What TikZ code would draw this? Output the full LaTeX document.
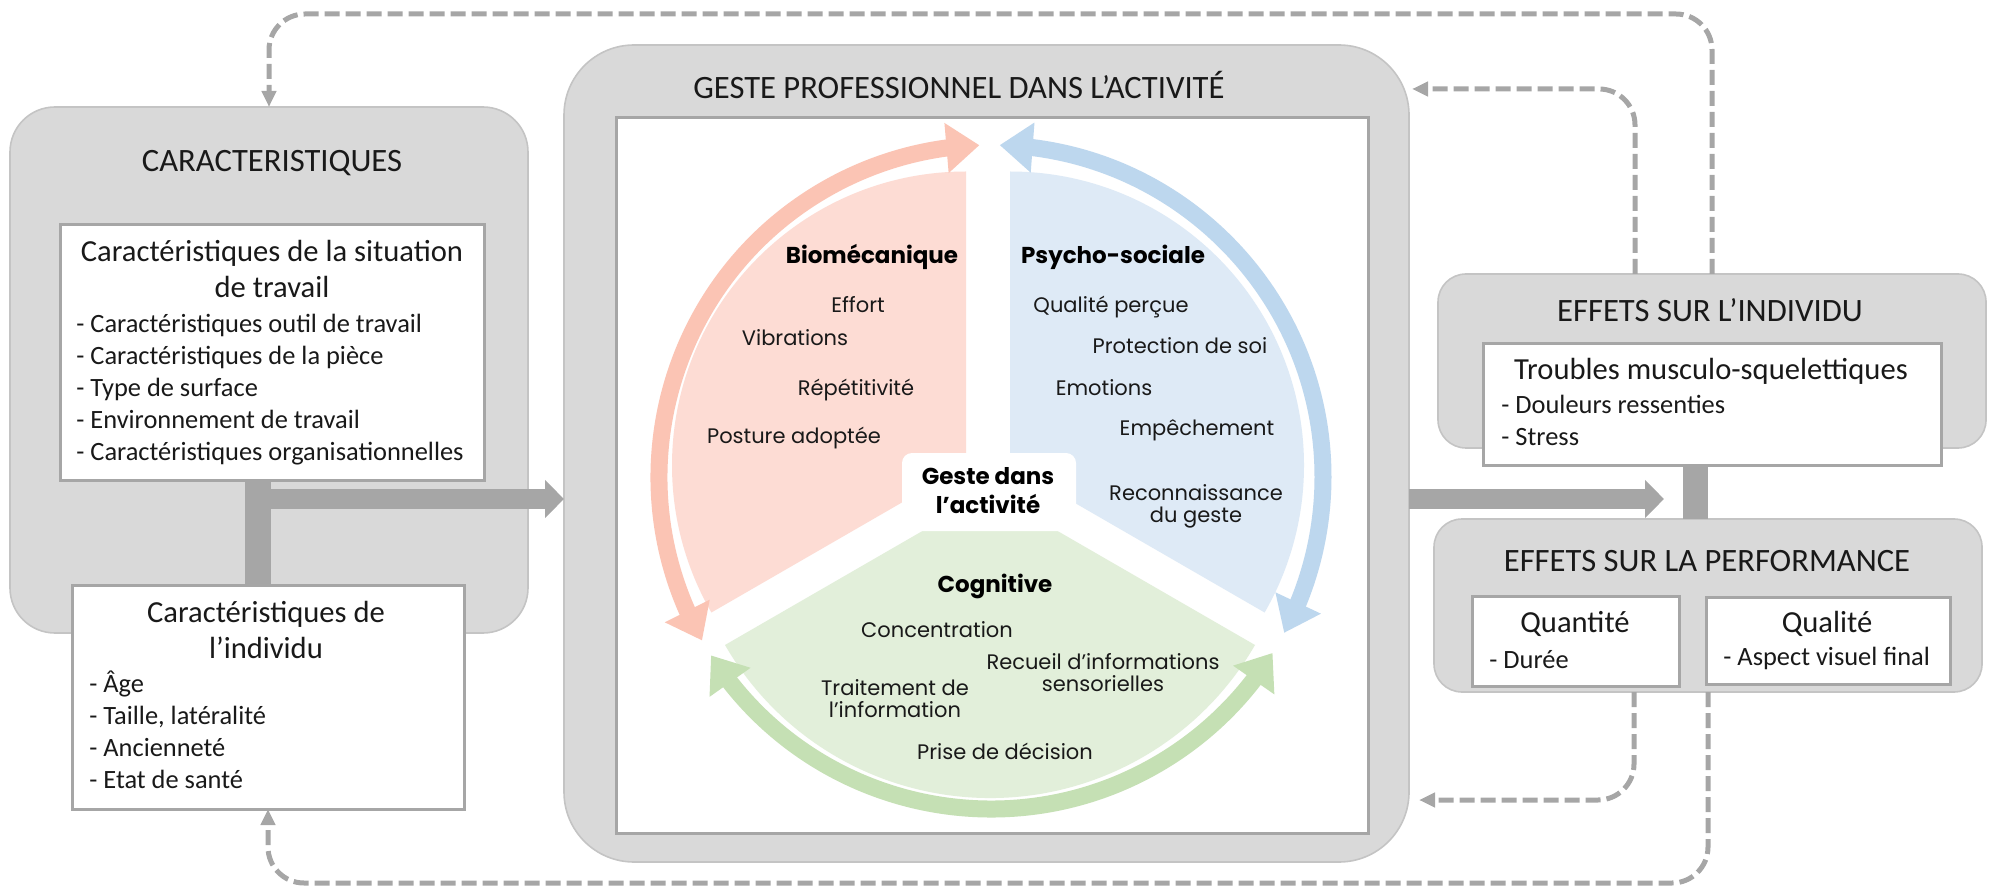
\documentclass[tikz,border=0pt]{standalone}
\usepackage{fontspec}
\setmainfont{Carlito}
\newfontfamily\piefont{Poppins}
\usetikzlibrary{arrows.meta,bending,calc}

\definecolor{boxgray}{HTML}{D9D9D9}
\definecolor{linegray}{HTML}{A6A6A6}
\definecolor{rimgray}{HTML}{C4C4C4}
\definecolor{bioarrow}{HTML}{FBC4B4}
\definecolor{biofill}{HTML}{FDDCD4}
\definecolor{psyarrow}{HTML}{BDD7EE}
\definecolor{psyfill}{HTML}{DEEAF6}
\definecolor{cogarrow}{HTML}{C5E0B4}
\definecolor{cogfill}{HTML}{E2EFDA}

\tikzset{
  graybox/.style={fill=boxgray, draw=rimgray, line width=0.8pt, anchor=north west, outer sep=0pt},
  whitebox/.style={fill=white, draw=linegray, line width=1.5pt, anchor=north west, outer sep=0pt},
  boxtitle/.style={anchor=base, inner sep=0pt, text=black!90, font=\fontsize{16.3}{19}\selectfont},
  boxhead/.style={anchor=base, inner sep=0pt, text=black!90, font=\fontsize{15.3}{18}\selectfont},
  boxitem/.style={anchor=base west, inner sep=0pt, text=black!90, font=\fontsize{13.2}{16}\selectfont},
  pieitem/.style={anchor=base, inner sep=0pt, text=black!90, font=\piefont\fontsize{10.5}{11}\selectfont},
  piehead/.style={anchor=base, inner sep=0pt, text=black, font=\piefont\bfseries\fontsize{11.5}{14.5}\selectfont},
  fatbar/.style={draw=linegray, line width=13pt},
  fatarrow/.style={draw=linegray, line width=10pt, -{Triangle[width=18.5pt,length=9.5pt]}},
  loopback/.style={draw=linegray, line width=2.5pt, dash pattern=on 7.5pt off 3pt, rounded corners=18pt, -{Triangle[width=7pt,length=8pt]}},
  cyclearrow/.style={line width=8.5pt, {Triangle[width=24pt,length=16.5pt]}-{Triangle[width=24pt,length=16.5pt]}},
}

\begin{document}
\begin{tikzpicture}[x=0.5pt, y=0.5pt]
    \useasboundingbox (0,0) rectangle (1991,-887);

    % Gray frames
    \node[graybox, rounded corners=22.5pt, minimum width=259pt, minimum height=263pt] (carac) at (10,-107) {};
    \node[graybox, rounded corners=35pt, minimum width=422.5pt, minimum height=408.5pt] (geste) at (564,-45) {};
    \node[graybox, rounded corners=14pt, minimum width=274pt, minimum height=87pt] (effind) at (1438,-274) {};
    \node[graybox, rounded corners=14pt, minimum width=274pt, minimum height=86.5pt] (effperf) at (1434,-519) {};

    % Thick links
    \coordinate (leftbar) at (258,0);
    \coordinate (rightbar) at (1695,0);
    \coordinate (arrowrow) at (0,-499);
    \coordinate (rightend) at (1664,-499);

    % White boxes
    \node[whitebox, minimum width=212pt, minimum height=127.5pt] (sit) at (60,-225) {};
    \node[whitebox, minimum width=376pt, minimum height=357.5pt] (activ) at (616,-118) {};
    \node[whitebox, minimum width=229pt, minimum height=60.5pt] (tms) at (1483,-344) {};
    \draw[fatbar] (sit.south -| leftbar) -- ($(sit.south -| leftbar)+(0,-106)$) coordinate (indivtop);
    \draw[fatarrow] (leftbar |- arrowrow) -- (geste.west |- arrowrow);
    \draw[fatarrow] (geste.east |- arrowrow) -- (rightend);
    \draw[fatbar, line width=12.5pt] (tms.south -| rightbar) -- (effperf.north -| rightbar);
    \node[whitebox, minimum width=196pt, minimum height=112pt] (indiv) at (72,-585) {};
    \node[whitebox, minimum width=103.5pt, minimum height=45pt] (quant) at (1472,-596) {};
    \node[whitebox, minimum width=122pt, minimum height=43.5pt] (qual) at (1706,-597) {};

    % Titles
    \node[boxtitle] (caractitle) at (272,-172) {CARACTERISTIQUES};
    \node[boxtitle] (gestetitle) at (959,-99) {GESTE PROFESSIONNEL DANS L’ACTIVITÉ};
    \node[boxtitle] (effindtitle) at (1710,-322) {EFFETS SUR L’INDIVIDU};
    \node[boxtitle] (effperftitle) at (1707,-571) {EFFETS SUR LA PERFORMANCE};

    % Box texts (base = last line)
    \node[boxhead, align=center] (sithead) at (272,-298) {Caractéristiques de la situation\\de travail};
    \node[boxitem, align=left] (sitlist) at (76,-460) {- Caractéristiques outil de travail\\- Caractéristiques de la pièce\\- Type de surface\\- Environnement de travail\\- Caractéristiques organisationnelles};
    \node[boxhead, align=center] (indivhead) at (266,-658) {Caractéristiques de\\l’individu};
    \node[boxitem, align=left] (indivlist) at (89,-788) {- Âge\\- Taille, latéralité\\- Ancienneté\\- Etat de santé};
    \node[boxhead] (tmshead) at (1711,-380) {Troubles musculo-squelettiques};
    \node[boxitem, align=left] (tmslist) at (1501,-445) {- Douleurs ressenties\\- Stress};
    \node[boxhead] (quanthead) at (1575,-632) {Quantité};
    \node[boxitem] (quantlist) at (1489,-668) {- Durée};
    \node[boxhead] (qualhead) at (1827,-632) {Qualité};
    \node[boxitem] (quallist) at (1723,-665) {- Aspect visuel final};

    % Sectors
    \fill[biofill] (966,-465.5) -- ++(90:294) arc[start angle=90, end angle=210, radius=294] -- cycle;
    \fill[psyfill] (1010,-465.5) -- ++(90:294) arc[start angle=90, end angle=-30, radius=294] -- cycle;
    \fill[cogfill] (990,-492) -- ++(210:306) arc[start angle=210, end angle=330, radius=306] -- cycle;
    \fill[white, rounded corners=5pt] (902,-453) rectangle (1076,-531);

    % Cycle arrows
    \coordinate (ringc) at (991,-477);
    \draw[cyclearrow, bioarrow] ($(ringc)+(209.5:332)$) arc[start angle=209.5, end angle=92, radius=332];
    \draw[cyclearrow, psyarrow] ($(ringc)+(88.5:332)$) arc[start angle=88.5, end angle=-28, radius=332];
    \draw[cyclearrow, cogarrow] ($(ringc)+(212.5:332)$) arc[start angle=212.5, end angle=328, radius=332];

    % Sector texts
    \node[piehead, align=center] (center) at (988,-513) {Geste dans\\l’activité};
    \node[piehead] (bio) at (872,-264) {Biomécanique};
    \node[pieitem] (effort) at (858,-313) {Effort};
    \node[pieitem] (vibr) at (795,-346) {Vibrations};
    \node[pieitem] (repet) at (856,-395) {Répétitivité};
    \node[pieitem] (posture) at (794,-444) {Posture adoptée};
    \node[piehead] (psy) at (1113,-264) {Psycho-sociale};
    \node[pieitem] (qualite) at (1111,-313) {Qualité perçue};
    \node[pieitem] (protect) at (1180,-354) {Protection de soi};
    \node[pieitem] (emotion) at (1104,-395) {Emotions};
    \node[pieitem] (empech) at (1197,-436) {Empêchement};
    \node[pieitem, align=center] (reconn) at (1196,-522) {Reconnaissance\\du geste};
    \node[piehead] (cog) at (995,-592) {Cognitive};
    \node[pieitem] (concent) at (937,-637) {Concentration};
    \node[pieitem, align=center] (recueil) at (1103,-691) {Recueil d’informations\\sensorielles};
    \node[pieitem, align=center] (traite) at (895,-717) {Traitement de\\l’information};
    \node[pieitem] (prise) at (1005,-759) {Prise de décision};

    % Feedback loops
    \coordinate (toprow) at (0,-14);
    \coordinate (bottomrow) at (0,-883);
    \coordinate (effindup) at ($(effind.north)+(-77,0)$);
    \coordinate (gesteup) at (1412,-89);
    \coordinate (quantdown) at ($(effperf.south)+(-74,0)$);
    \coordinate (gestedown) at (1419,-800);
    \draw[loopback] (effind.north) -- (effind.north |- toprow) -- (carac.north |- toprow) -- (carac.north);
    \draw[loopback] (effindup) |- (gesteup);
    \draw[loopback] (quantdown) |- (gestedown);
    \draw[loopback] (effperf.south) -- (effperf.south |- bottomrow) -- (indiv.south |- bottomrow) -- (indiv.south);
\end{tikzpicture}
\end{document}
